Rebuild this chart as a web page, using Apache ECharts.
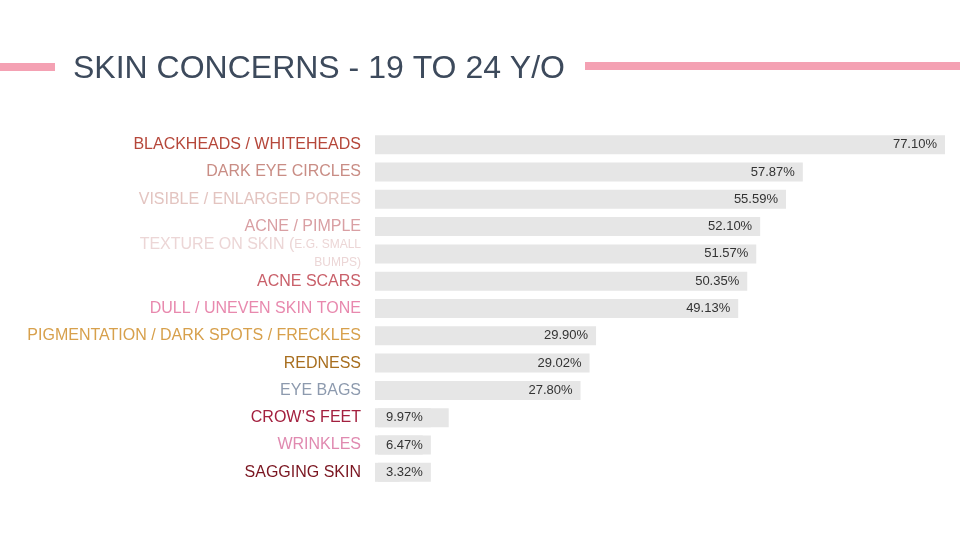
<!DOCTYPE html>
<html><head><meta charset="utf-8">
<script src="https://cdn.jsdelivr.net/npm/echarts@6/dist/echarts.min.js"></script>
<style>html,body{margin:0;background:#fff}#c{width:960px;height:540px}</style>
</head><body><div id="c"></div>
<script>
const categories = ['BLACKHEADS / WHITEHEADS','DARK EYE CIRCLES','VISIBLE / ENLARGED PORES','ACNE / PIMPLE',
  'TEXTURE ON SKIN (E.G. SMALL BUMPS)','ACNE SCARS','DULL / UNEVEN SKIN TONE','PIGMENTATION / DARK SPOTS / FRECKLES',
  'REDNESS','EYE BAGS','CROW’S FEET','WRINKLES','SAGGING SKIN'];
const values = [77.10, 57.87, 55.59, 52.10, 51.57, 50.35, 49.13, 29.90, 29.02, 27.80, 9.97, 6.47, 3.32];
const labelColors = ['#b5473a','#c98d85','#e3c4c0','#d99fa3','#ecd6d6','#c9606a','#e889ae','#d7a04c',
  '#a86e1e','#8d9aae','#a3203f','#e08ab0','#7a1520'];

var chart = echarts.init(document.getElementById('c'));
var option = {
  animation: false,
  title: {
    text: 'SKIN CONCERNS - 19 TO 24 Y/O', left: 68, top: 48,
    textStyle: {fontFamily: 'Liberation Sans', fontSize: 32, fontWeight: 'normal', color: '#3d4a5c'}
  },
  graphic: [
    {type: 'rect', shape: {x: 0, y: 63, width: 55, height: 8}, style: {fill: '#f4a1b3'}},
    {type: 'rect', shape: {x: 585, y: 62, width: 375, height: 8}, style: {fill: '#f4a1b3'}}
  ],
  grid: {left: 375, right: 15, top: 131, height: 355},
  xAxis: {type: 'value', min: 0, max: 77.1, show: false},
  yAxis: {
    type: 'category', data: categories, inverse: true,
    axisLine: {show: false}, axisTick: {show: false},
    axisLabel: {
      margin: 14,
      formatter: function (v, i) {
        if (i === 4) return '{a|TEXTURE ON SKIN (}{s|E.G. SMALL}\n{s|BUMPS)}';
        return '{c' + i + '|' + v + '}';
      },
      rich: Object.assign({
        a: {color: labelColors[4], fontSize: 16, fontFamily: 'Liberation Sans', lineHeight: 18},
        s: {color: labelColors[4], fontSize: 12, fontFamily: 'Liberation Sans', lineHeight: 18}
      }, Object.fromEntries(labelColors.map((c, i) => ['c' + i, {color: c, fontSize: 16, fontFamily: 'Liberation Sans'}])))
    }
  },
  series: [{
    type: 'bar', barWidth: 19,
    data: values.map(v => ({
      value: v,
      label: v < 12 ? {position: 'insideLeft', backgroundColor: '#e6e6e6', padding: [3, 8, 3, 8], offset: [-5, 0]} : {}
    })),
    itemStyle: {color: '#e6e6e6'},
    label: {
      show: true, position: 'insideRight', distance: 8, color: '#333',
      fontFamily: 'Liberation Sans', fontSize: 13,
      formatter: p => p.value.toFixed(2) + '%'
    }
  }]
};
chart.setOption(option);
</script></body></html>
